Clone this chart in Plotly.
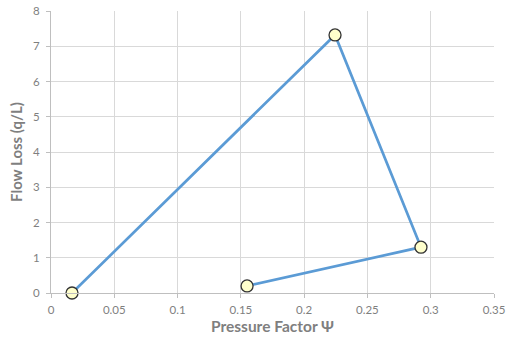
import plotly.graph_objects as go

pressure_factor = [0.0166, 0.2244, 0.2923, 0.1549]
flow_loss = [0.0, 7.32, 1.30, 0.20]

x_ticks = [0, 0.05, 0.1, 0.15, 0.2, 0.25, 0.3, 0.35]
x_tick_labels = ["0", "0.05", "0.1", "0.15", "0.2", "0.25", "0.3", "0.35"]
y_ticks = [0, 1, 2, 3, 4, 5, 6, 7, 8]

fig = go.Figure()
fig.add_trace(go.Scatter(
    x=pressure_factor, y=flow_loss, mode="lines+markers",
    line=dict(color="#5B9BD5", width=2.7),
    marker=dict(size=12, color="#FFFFCC", line=dict(color="#333333", width=1.3)),
    cliponaxis=False,
))

fig.update_layout(
    width=529, height=343,
    margin=dict(l=51, r=35, t=11, b=50),
    paper_bgcolor="white", plot_bgcolor="white",
    showlegend=False,
    font=dict(family="Lato, Open Sans, sans-serif", color="#7f7f7f", size=11.5),
)
fig.update_xaxes(
    range=[0, 0.35], tickvals=x_ticks, ticktext=x_tick_labels,
    showgrid=True, gridcolor="#D9D9D9", gridwidth=1,
    showline=True, linecolor="#BFBFBF", linewidth=1,
    ticks="outside", ticklen=4, tickcolor="#BFBFBF",
    ticklabelstandoff=2,
    zeroline=False, automargin=False,
    title=dict(text="<b>Pressure Factor Ψ</b>", font=dict(size=15.5, color="#7f7f7f"), standoff=6),
)
fig.update_yaxes(
    range=[0, 8], tickvals=y_ticks,
    showgrid=True, gridcolor="#D9D9D9", gridwidth=1,
    showline=True, linecolor="#BFBFBF", linewidth=1,
    ticks="outside", ticklen=4, tickcolor="#BFBFBF",
    ticklabelstandoff=4,
    zeroline=False, automargin=False,
    title=dict(text="<b>Flow Loss (q/L)</b>", font=dict(size=15, color="#7f7f7f"), standoff=6),
)

fig.write_html("out.html", config={"displayModeBar": False},
               post_script="document.body.style.margin='0';")
